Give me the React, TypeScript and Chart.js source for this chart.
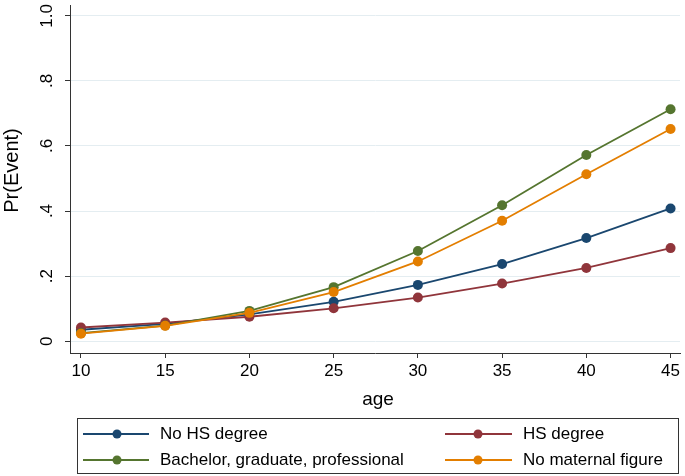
import React, { useEffect, useRef } from "react";
import { Chart, registerables } from "chart.js";

Chart.register(...registerables);

const ages = [10, 15, 20, 25, 30, 35, 40, 45];
const noHS = [0.035, 0.053, 0.082, 0.121, 0.173, 0.237, 0.317, 0.408];
const hsDegree = [0.042, 0.057, 0.075, 0.101, 0.134, 0.177, 0.225, 0.286];
const bachelor = [0.025, 0.048, 0.093, 0.166, 0.277, 0.418, 0.572, 0.713];
const noMaternal = [0.023, 0.047, 0.087, 0.151, 0.245, 0.37, 0.513, 0.652];

const seriesNames = ["No HS degree", "HS degree", "Bachelor, graduate, professional", "No maternal figure"];
const seriesColors = ["#1a476f", "#90353b", "#55752f", "#e37e00"];
const seriesValues = [noHS, hsDegree, bachelor, noMaternal];

const xTicks = [10, 15, 20, 25, 30, 35, 40, 45];
const yTicks = [0, 0.2, 0.4, 0.6, 0.8, 1.0];
const yTickLabels = ["0", ".2", ".4", ".6", ".8", "1.0"];

const xTitle = "age";
const yTitle = "Pr(Event)";
const FONT = '"Liberation Sans", Arial, sans-serif';

const decorPlugin = {
  id: "decor",
  afterDraw(chart: any) {
    const ctx = chart.ctx;
    const y = chart.scales.y;
    ctx.save();
    ctx.fillStyle = "#000";
    // y tick labels rotated
    ctx.font = `17px ${FONT}`;
    ctx.textAlign = "center";
    ctx.textBaseline = "alphabetic";
    yTicks.forEach((v, i) => {
      const py = y.getPixelForValue(v);
      ctx.save();
      ctx.translate(52, py);
      ctx.rotate(-Math.PI / 2);
      ctx.fillText(yTickLabels[i], 0, 0);
      ctx.restore();
    });
    // y title
    ctx.font = `20px ${FONT}`;
    ctx.save();
    ctx.translate(18, 170.5);
    ctx.rotate(-Math.PI / 2);
    ctx.fillText(yTitle, 0, 0);
    ctx.restore();
    // x title
    ctx.font = `19px ${FONT}`;
    ctx.fillText(xTitle, 378, 405);

    // legend
    ctx.strokeStyle = "#333";
    ctx.lineWidth = 1;
    ctx.strokeRect(77.5, 418.5, 601, 55);
    const cols = [
      { x0: 83, x1: 149, mx: 117, tx: 160 },
      { x0: 445, x1: 512, mx: 478, tx: 523 },
    ];
    const rows = [{ cy: 434, by: 439 }, { cy: 460, by: 465 }];
    ctx.font = `17px ${FONT}`;
    ctx.textAlign = "left";
    seriesNames.forEach((name, i) => {
      const c = cols[i % 2];
      const r = rows[Math.floor(i / 2)];
      ctx.strokeStyle = seriesColors[i];
      ctx.lineWidth = 1.8;
      ctx.beginPath();
      ctx.moveTo(c.x0, r.cy);
      ctx.lineTo(c.x1, r.cy);
      ctx.stroke();
      ctx.fillStyle = seriesColors[i];
      ctx.beginPath();
      ctx.arc(c.mx, r.cy, 4.5, 0, Math.PI * 2);
      ctx.fill();
      ctx.fillStyle = "#000";
      ctx.fillText(name, c.tx, r.by);
    });
    ctx.restore();
  },
};

export default function App() {
  const ref = useRef<HTMLCanvasElement | null>(null);
  useEffect(() => {
    if (!ref.current) return;
    const chart = new Chart(ref.current, {
      type: "line",
      data: {
        datasets: seriesNames.map((name, i) => ({
          label: name,
          data: ages.map((a, j) => ({ x: a, y: seriesValues[i][j] })),
          borderColor: seriesColors[i],
          backgroundColor: seriesColors[i],
          pointBackgroundColor: seriesColors[i],
          pointBorderColor: seriesColors[i],
          borderWidth: 1.8,
          pointRadius: 5,
          pointBorderWidth: 0,
          tension: 0,
          fill: false,
          order: seriesNames.length - 1 - i,
        })),
      },
      options: {
        responsive: false,
        animation: false,
        events: [],
        layout: { padding: { left: 0, right: 1, top: 0, bottom: 0 } },
        plugins: { legend: { display: false }, tooltip: { enabled: false } },
        scales: {
          x: {
            type: "linear",
            min: 9.35,
            max: 45.56,
            afterBuildTicks: (s: any) => {
              s.ticks = xTicks.map((v) => ({ value: v }));
            },
            afterFit: (s: any) => {
              s.height = 123;
            },
            ticks: {
              color: "#000",
              font: { family: FONT, size: 17 },
              padding: 3,
              maxRotation: 0,
              autoSkip: false,
              callback: (v: any) => String(v),
            },
            grid: {
              drawOnChartArea: false,
              drawTicks: true,
              tickLength: 5,
              tickColor: "#333",
              tickWidth: 1,
            },
            border: { display: true, color: "#333", width: 1 },
          },
          y: {
            type: "linear",
            min: -0.0364,
            max: 1.0333,
            afterBuildTicks: (s: any) => {
              s.ticks = yTicks.map((v) => ({ value: v }));
            },
            afterFit: (s: any) => {
              s.width = 70;
            },
            ticks: { display: false },
            grid: {
              color: "#e4edf1",
              lineWidth: 1,
              drawTicks: true,
              tickLength: 5,
              tickColor: "#333",
              tickWidth: 1,
            },
            border: { display: true, color: "#333", width: 1 },
          },
        },
      },
      plugins: [decorPlugin],
    });
    return () => chart.destroy();
  }, []);
  return (
    <div style={{ position: "fixed", left: 0, top: 0, width: 685, height: 476, background: "#fff" }}>
      <canvas ref={ref} width={685} height={476} style={{ display: "block" }} />
    </div>
  );
}
